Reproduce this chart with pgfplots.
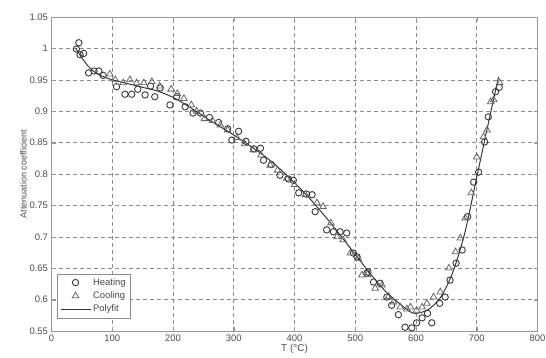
\documentclass[border=0pt]{standalone}
\usepackage{pgfplots}
\pgfplotsset{compat=1.18}
\usepackage{pgfplotstable}
\usepackage{fontspec}
\setmainfont{Liberation Sans}
\definecolor{mk}{gray}{0.22}
\definecolor{gridc}{gray}{0.55}
\definecolor{axc}{gray}{0.6}
\definecolor{txt}{gray}{0.3}

\pgfplotstableread{
T v
41 0.999
45 1.009
47 0.990
53 0.992
61 0.961
70 0.964
78 0.964
85 0.957
107 0.939
121 0.927
132 0.927
142 0.935
154 0.926
163 0.940
170 0.923
179 0.937
195 0.910
206 0.923
220 0.907
233 0.897
245 0.897
260 0.890
275 0.882
290 0.872
297 0.854
308 0.868
320 0.852
333 0.840
344 0.841
349 0.822
362 0.815
376 0.798
390 0.792
398 0.790
407 0.770
420 0.768
429 0.767
434 0.740
453 0.711
464 0.708
475 0.708
486 0.706
497 0.674
503 0.668
519 0.642
521 0.644
530 0.628
541 0.626
552 0.604
560 0.591
571 0.576
582 0.556
593 0.555
601 0.563
610 0.571
619 0.578
626 0.563
639 0.594
648 0.604
656 0.631
666 0.658
676 0.679
685 0.732
695 0.787
703 0.803
713 0.851
719 0.891
731 0.931
737 0.938
}\heating

\pgfplotstableread{
T v
96 0.959
105 0.950
118 0.945
129 0.950
140 0.945
152 0.945
165 0.947
178 0.940
197 0.935
207 0.928
218 0.920
230 0.910
239 0.900
252 0.888
265 0.885
278 0.878
290 0.870
305 0.858
318 0.848
332 0.838
345 0.830
360 0.814
372 0.806
387 0.793
400 0.783
418 0.767
437 0.754
447 0.748
460 0.722
470 0.700
480 0.695
492 0.674
505 0.665
511 0.639
520 0.640
533 0.618
544 0.623
555 0.605
563 0.596
574 0.588
585 0.585
591 0.588
601 0.583
610 0.588
618 0.594
629 0.604
640 0.612
654 0.650
665 0.676
673 0.698
681 0.730
691 0.770
700 0.827
711 0.859
717 0.870
723 0.915
728 0.918
738 0.945
}\cooling

\pgfplotstableread{
T v
40 1.000
50 0.985
60 0.972
70 0.963
80 0.957
100 0.950
125 0.944
150 0.938
175 0.932
200 0.922
225 0.908
250 0.892
275 0.877
300 0.862
325 0.846
350 0.829
375 0.809
400 0.786
425 0.761
450 0.733
475 0.703
500 0.672
525 0.641
550 0.613
575 0.592
590 0.581
600 0.578
620 0.584
640 0.603
660 0.642
680 0.705
700 0.795
720 0.885
736 0.955
}\polyfit

\begin{document}
\begin{tikzpicture}
\useasboundingbox (-51.5bp,-27bp) rectangle (494.5bp,331bp);
\begin{axis}[
  at={(0,0)}, anchor=south west,
  scale only axis,
  width=486bp, height=314bp,
  xmin=0, xmax=800, ymin=0.55, ymax=1.05,
  xtick={0,100,...,800},
  ytick={0.55,0.6,...,1.05},
  yticklabels={0.55,0.6,0.65,0.7,0.75,0.8,0.85,0.9,0.95,1,1.05},
  grid=major,
  major grid style={gridc, line width=0.6pt, dash pattern=on 4bp off 3bp},
  axis line style={axc, line width=0.8pt},
  tick style={axc},
  tick align=inside,
  major tick length=4bp,
  ticklabel style={font=\fontsize{9.5}{11}\selectfont, text=txt},
  /pgf/number format/assume math mode=true,
  xlabel={T (°C)},
  ylabel={Attenuation coefficient},
  xlabel style={font=\fontsize{10}{12}\selectfont, text=txt, yshift=4bp},
  ylabel style={font=\fontsize{9}{11}\selectfont, text=txt, yshift=-4bp},
  legend style={at={(0.011,0.041)}, anchor=south west, draw=gridc,
    font=\fontsize{9.5}{11}\selectfont, text=txt, inner xsep=3bp, inner ysep=2.5bp,
    row sep=1bp},
  legend cell align=left,
  legend image code/.code={\draw[mark repeat=2,mark phase=2,#1] plot coordinates {(0bp,0bp) (15bp,0bp) (30bp,0bp)};},
]
\addplot[only marks, mark=o, mark size=3.2bp, mk, line width=0.9pt] table[x=T,y=v] {\heating};
\addlegendentry{Heating}
\addplot[only marks, mark=triangle, mark size=3.8bp, mark options={gray!80!black}, line width=0.8pt] table[x=T,y=v] {\cooling};
\addlegendentry{Cooling}
\addplot[mk, line width=1pt, smooth] table[x=T,y=v] {\polyfit};
\addlegendentry{Polyfit}
\end{axis}
\end{tikzpicture}
\end{document}
